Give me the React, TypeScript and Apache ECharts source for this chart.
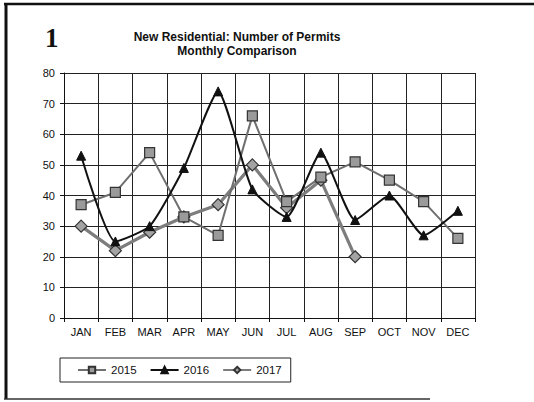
import React, { useEffect, useRef } from "react";
import * as echarts from "echarts";

const months = ["JAN", "FEB", "MAR", "APR", "MAY", "JUN", "JUL", "AUG", "SEP", "OCT", "NOV", "DEC"];
const permits2015 = [37, 41, 54, 33, 27, 66, 38, 46, 51, 45, 38, 26];
const permits2016 = [53, 25, 30, 49, 74, 42, 33, 54, 32, 40, 27, 35];
const permits2017 = [30, 22, 28, 33, 37, 50, 36, 45, 20];
const yTicks = [0, 10, 20, 30, 40, 50, 60, 70, 80];

const FONT = "'Liberation Sans', Arial, sans-serif";

export default function App() {
  const ref = useRef<HTMLDivElement>(null);

  useEffect(() => {
    if (!ref.current) return;
    const chart = echarts.init(ref.current, null, { renderer: "svg" });
    chart.setOption({
      animation: false,
      backgroundColor: "#ffffff",
      textStyle: { fontFamily: FONT },
      title: [
        {
          text: "New Residential: Number of Permits\nMonthly Comparison",
          left: 232,
          top: 25,
          textAlign: "center",
          textStyle: {
            fontFamily: FONT,
            fontSize: 12,
            fontWeight: "bold",
            color: "#111",
            lineHeight: 14,
          },
        },
        {
          text: "1",
          left: 40,
          top: 19,
          textStyle: {
            fontFamily: "'Liberation Serif', 'Times New Roman', serif",
            fontSize: 27,
            fontWeight: "bold",
            color: "#111",
          },
        },
      ],
      grid: { left: 64, right: 59, top: 73, bottom: 84 },
      legend: {
        left: 60,
        top: 358,
        padding: [6, 9, 6, 17],
        borderColor: "#222",
        borderWidth: 1,
        itemGap: 13,
        itemWidth: 28,
        itemHeight: 8,
        textStyle: { fontFamily: FONT, fontSize: 11.5, color: "#111" },
        data: ["2015", "2016", "2017"],
      },
      xAxis: {
        type: "category",
        data: months,
        boundaryGap: true,
        axisLine: { lineStyle: { color: "#111", width: 1 } },
        axisTick: { show: true, length: 4, lineStyle: { color: "#111" } },
        axisLabel: { fontFamily: FONT, fontSize: 11, color: "#111", margin: 8 },
        splitLine: { show: true, interval: 0, lineStyle: { color: "#222", width: 1 } },
      },
      yAxis: {
        type: "value",
        min: yTicks[0],
        max: yTicks[yTicks.length - 1],
        interval: 10,
        axisLine: { show: true, lineStyle: { color: "#111", width: 1 } },
        axisTick: { show: true, length: 4, lineStyle: { color: "#111" } },
        axisLabel: { fontFamily: FONT, fontSize: 11, color: "#111", margin: 9 },
        splitLine: { show: true, lineStyle: { color: "#222", width: 1 } },
      },
      series: [
        {
          name: "2015",
          type: "line",
          data: permits2015,
          symbol: "rect",
          symbolSize: 10,
          lineStyle: { color: "#6f6f6f", width: 2 },
          itemStyle: { color: "#9a9a9a", borderColor: "#333", borderWidth: 1.2 },
          z: 3,
        },
        {
          name: "2016",
          type: "line",
          data: permits2016,
          smooth: 0.18,
          symbol: "triangle",
          symbolSize: 9,
          lineStyle: { color: "#111", width: 2 },
          itemStyle: { color: "#111", borderColor: "#111", borderWidth: 1 },
          z: 4,
        },
        {
          name: "2017",
          type: "line",
          data: permits2017,
          symbol: "diamond",
          symbolSize: 12,
          lineStyle: { color: "#7d7d7d", width: 3.2 },
          itemStyle: { color: "#a3a3a3", borderColor: "#333", borderWidth: 1.2 },
          z: 2,
        },
      ],
      graphic: [
        { type: "line", shape: { x1: 6, y1: 4, x2: 6, y2: 399 }, style: { stroke: "#111", lineWidth: 3 } },
        { type: "line", shape: { x1: 4, y1: 4, x2: 534, y2: 4 }, style: { stroke: "#111", lineWidth: 2.5 } },
        { type: "line", shape: { x1: 4, y1: 399, x2: 430, y2: 399 }, style: { stroke: "#333", lineWidth: 1.5 } },
      ],
    });
    return () => chart.dispose();
  }, []);

  return <div ref={ref} style={{ width: 534, height: 402, position: "absolute", left: 0, top: 0 }} />;
}
